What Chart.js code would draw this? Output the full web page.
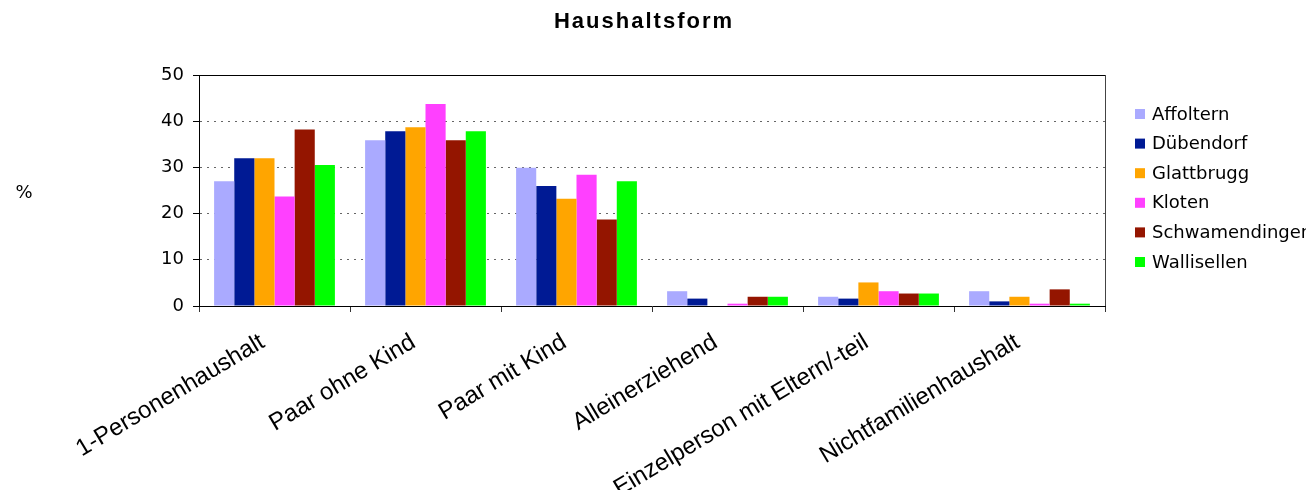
<!DOCTYPE html>
<html>
<head>
<meta charset="utf-8">
<script src="https://cdn.jsdelivr.net/npm/chart.js@4/dist/chart.umd.min.js"></script>
<style>
    html, body { margin: 0; padding: 0; background: #fff; }
    #wrap { width: 1306px; height: 490px; }
</style>
</head>
<body>
<div id="wrap"><canvas id="hhChart" width="1306" height="490"></canvas></div>
<script>
// DATA
const categories = [
    "1-Personenhaushalt",
    "Paar ohne Kind",
    "Paar mit Kind",
    "Alleinerziehend",
    "Einzelperson mit Eltern/-teil",
    "Nichtfamilienhaushalt"
];
const affoltern      = [27.0, 35.9, 29.9, 3.2, 2.0, 3.2];
const duebendorf     = [32.0, 37.8, 26.0, 1.6, 1.6, 1.0];
const glattbrugg     = [32.0, 38.7, 23.2, 0.0, 5.1, 2.0];
const kloten         = [23.7, 43.7, 28.4, 0.5, 3.2, 0.5];
const schwamendingen = [38.2, 35.9, 18.7, 2.0, 2.7, 3.6];
const wallisellen    = [30.5, 37.8, 27.0, 2.0, 2.7, 0.5];
const yTicks = [0, 10, 20, 30, 40, 50];

const SERIES = [
    { name: "Affoltern",      values: affoltern,      color: "#AAAAFF" },
    { name: "Dübendorf",      values: duebendorf,     color: "#001A94" },
    { name: "Glattbrugg",     values: glattbrugg,     color: "#FFA500" },
    { name: "Kloten",         values: kloten,         color: "#FF40FF" },
    { name: "Schwamendingen", values: schwamendingen, color: "#941500" },
    { name: "Wallisellen",    values: wallisellen,    color: "#00FF00" }
];

const TITLE = "Haushaltsform";
const SANS = "'Liberation Sans', Arial, sans-serif";
const DEJA = "'DejaVu Sans', Verdana, sans-serif";

// frame: title, top + right border of the plot, "%" label, legend on the right
const framePlugin = {
    id: 'frame',
    afterDraw(chart) {
        const { ctx, chartArea: a } = chart;
        ctx.save();
        ctx.lineWidth = 1;
        ctx.strokeStyle = '#000';
        ctx.beginPath();
        ctx.moveTo(a.left, a.top + 0.5);
        ctx.lineTo(a.right, a.top + 0.5);
        ctx.stroke();
        ctx.strokeStyle = '#444';
        ctx.beginPath();
        ctx.moveTo(a.right + 0.5, a.top);
        ctx.lineTo(a.right + 0.5, a.bottom);
        ctx.stroke();

        // title (wide tracking like the original)
        ctx.fillStyle = '#000';
        ctx.font = `bold 22px ${SANS}`;
        ctx.textAlign = 'center';
        ctx.textBaseline = 'middle';
        if ('letterSpacing' in ctx) ctx.letterSpacing = '2px';
        ctx.fillText(TITLE, 644, 22);
        if ('letterSpacing' in ctx) ctx.letterSpacing = '0px';

        ctx.font = `18px ${DEJA}`;
        ctx.fillText('%', 24, 193);

        // legend
        ctx.textAlign = 'left';
        chart.data.datasets.forEach((ds, i) => {
            const y = 114 + i * 29.6;
            ctx.fillStyle = ds.backgroundColor;
            ctx.fillRect(1135, y - 5, 10, 10);
            ctx.fillStyle = '#000';
            ctx.fillText(ds.label, 1152, y + 1);
        });
        ctx.restore();
    }
};

new Chart(document.getElementById('hhChart'), {
    type: 'bar',
    data: {
        labels: categories,
        datasets: SERIES.map(s => ({
            label: s.name,
            data: s.values,
            backgroundColor: s.color,
            borderWidth: 0,
            categoryPercentage: 0.8,
            barPercentage: 1.0
        }))
    },
    options: {
        responsive: false,
        animation: false,
        layout: { padding: { left: 130, right: 201, top: 75, bottom: 0 } },
        plugins: {
            legend: { display: false },
            tooltip: { enabled: false },
            title: { display: false }
        },
        scales: {
            x: {
                afterFit(scale) { scale.height = 184; },
                grid: {
                    offset: true,
                    drawOnChartArea: false,
                    tickLength: 6,
                    color: '#333'
                },
                border: { display: true, color: '#000', width: 1 },
                ticks: {
                    color: '#000',
                    font: { family: SANS, size: 24 },
                    minRotation: 31,
                    maxRotation: 31,
                    autoSkip: false,
                    labelOffset: -12,
                    padding: 16
                }
            },
            y: {
                min: 0,
                max: 50,
                afterFit(scale) { scale.width = 69; },
                afterBuildTicks(scale) { scale.ticks = yTicks.map(v => ({ value: v })); },
                grid: {
                    color: '#666',
                    tickColor: '#000',
                    tickLength: 6
                },
                border: { display: true, color: '#000', width: 1, dash: [2, 5] },
                ticks: {
                    color: '#000',
                    font: { family: DEJA, size: 18 },
                    padding: 9
                }
            }
        }
    },
    plugins: [framePlugin]
});
</script>
</body>
</html>
